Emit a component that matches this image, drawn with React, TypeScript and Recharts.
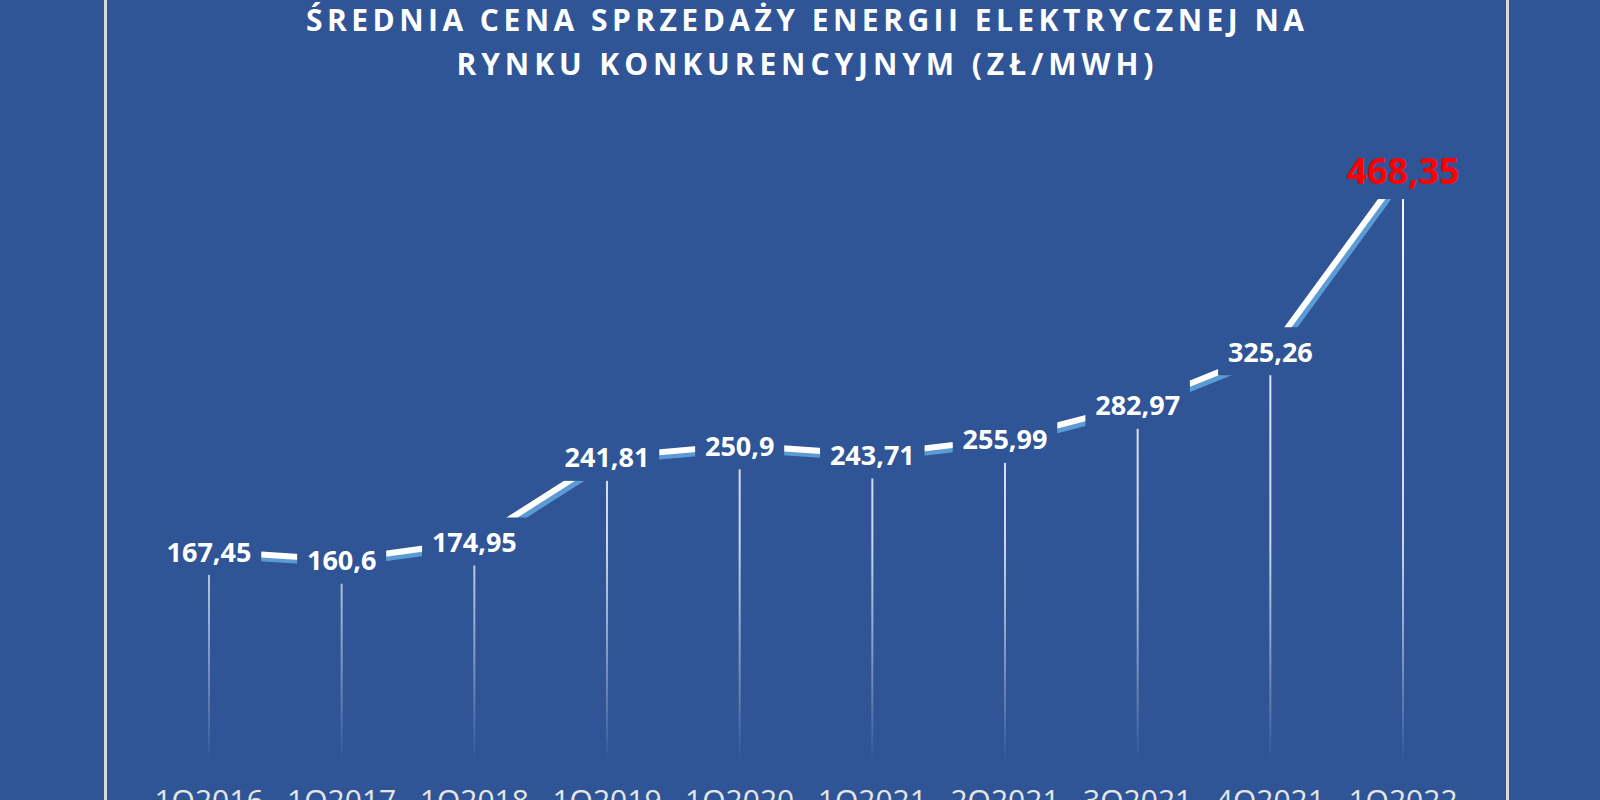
import React from "react";
import { LineChart, Line, XAxis, YAxis, LabelList } from "recharts";

const quarters = [
  "1Q2016",
  "1Q2017",
  "1Q2018",
  "1Q2019",
  "1Q2020",
  "1Q2021",
  "2Q2021",
  "3Q2021",
  "4Q2021",
  "1Q2022",
];
const prices = [167.45, 160.6, 174.95, 241.81, 250.9, 243.71, 255.99, 282.97, 325.26, 468.35];
const titleLines = [
  "ŚREDNIA CENA SPRZEDAŻY ENERGII ELEKTRYCZNEJ NA",
  "RYNKU KONKURENCYJNYM (ZŁ/MWH)",
];

const data = quarters.map((q, i) => ({ quarter: q, price: prices[i] }));

const BG = "#2F5597";
const W = 1600;
const H = 800;
const margin = { top: 130, right: 197, bottom: 7, left: 209 };
const X_AXIS_H = 30;
const PLOT_BOTTOM = H - margin.bottom - X_AXIS_H;
const FONT = "'Open Sans', sans-serif";

const fmt = (v: number) => String(v).replace(".", ",");
// rough Open Sans Bold advance widths
const textWidth = (s: string, fs: number) =>
  [...s].reduce((w, c) => w + (c === "," ? 0.27 : 0.572) * fs, 0);

const PriceLabel = (props: any) => {
  const { index, value } = props;
  const x = props.x ?? props.viewBox?.x;
  const y = props.y ?? props.viewBox?.y;
  if (x == null || y == null) return null;
  const last = index === prices.length - 1;
  const fs = last ? 36 : 27;
  const s = fmt(Number(value));
  const halfW = textWidth(s, fs) / 2 + 10;
  const halfH = last ? 29 : 24;
  return (
    <g>
      <rect x={x - halfW} y={y - halfH} width={halfW * 2} height={halfH * 2} fill={BG} />
      <text
        x={x}
        y={y}
        textAnchor="middle"
        dominantBaseline="central"
        fill={last ? "#FF0000" : "#FFFFFF"}
        fontSize={fs}
        fontWeight={700}
        fontFamily={FONT}
      >
        {s}
      </text>
    </g>
  );
};

const DropLine = (props: any) => {
  const { cx, cy, index } = props;
  return (
    <line
      key={`drop-${index}`}
      x1={cx}
      x2={cx}
      y1={cy}
      y2={PLOT_BOTTOM}
      stroke="url(#dropFade)"
      strokeWidth={2}
    />
  );
};

const App: React.FC = () => {
  return (
    <div
      style={{
        position: "fixed",
        left: 0,
        top: 0,
        width: W,
        height: H,
        background: BG,
        overflow: "hidden",
      }}
    >
      <style>{`.main-line .recharts-line-curve { filter: drop-shadow(3px 4px 0 #5B9BD5); }`}</style>
      <LineChart width={W} height={H} data={data} margin={margin}>
        <defs>
          <linearGradient
            id="dropFade"
            gradientUnits="userSpaceOnUse"
            x1={0}
            x2={0}
            y1={margin.top}
            y2={PLOT_BOTTOM}
          >
            <stop offset="0%" stopColor="#FFFFFF" stopOpacity={1} />
            <stop offset="65%" stopColor="#E8EEF8" stopOpacity={0.85} />
            <stop offset="100%" stopColor="#FFFFFF" stopOpacity={0} />
          </linearGradient>
        </defs>
        <XAxis
          dataKey="quarter"
          axisLine={false}
          tickLine={false}
          height={X_AXIS_H}
          tickMargin={21}
          interval={0}
          tick={{ fill: "#E6E6E6", fontSize: 30, fontFamily: FONT }}
        />
        <YAxis hide domain={[0, 500]} />
        <Line
          className="main-line"
          type="linear"
          dataKey="price"
          stroke="#FFFFFF"
          strokeWidth={6}
          dot={DropLine}
          activeDot={false}
          isAnimationActive={false}
        >
          <LabelList dataKey="price" content={PriceLabel} />
        </Line>
      </LineChart>
      <svg
        width={W}
        height={110}
        style={{ position: "absolute", left: 0, top: 0, pointerEvents: "none" }}
      >
        <text
          x={805}
          y={31}
          textAnchor="middle"
          textLength={998}
          lengthAdjust="spacing"
          fill="#FFFFFF"
          fontSize={30}
          fontWeight={700}
          fontFamily={FONT}
        >
          {titleLines[0]}
        </text>
        <text
          x={805}
          y={75}
          textAnchor="middle"
          textLength={697}
          lengthAdjust="spacing"
          fill="#FFFFFF"
          fontSize={30}
          fontWeight={700}
          fontFamily={FONT}
        >
          {titleLines[1]}
        </text>
      </svg>
      <div style={{ position: "absolute", left: 104, top: 0, width: 3, height: H, background: "#D9D9D9" }} />
      <div style={{ position: "absolute", left: 1506, top: 0, width: 3, height: H, background: "#D9D9D9" }} />
    </div>
  );
};

export default App;
